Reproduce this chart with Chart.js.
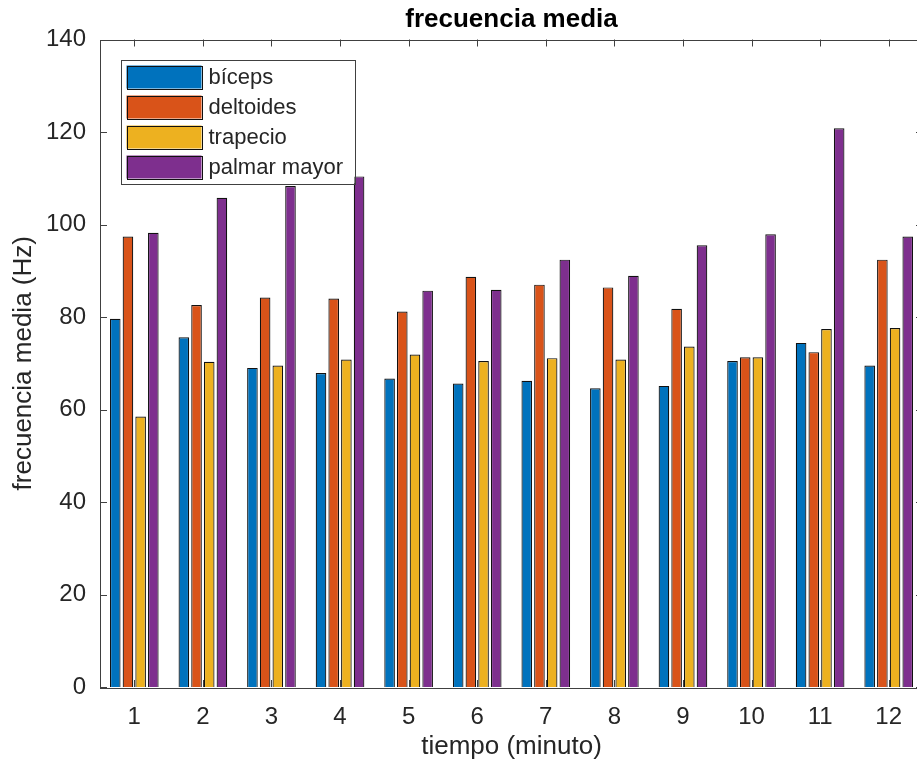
<!DOCTYPE html>
<html>
<head>
<meta charset="utf-8">
<script src="https://cdn.jsdelivr.net/npm/chart.js@4/dist/chart.umd.min.js"></script>
<style>
  html, body { margin: 0; padding: 0; background: #fff; overflow: hidden; }
  #wrap { width: 940px; height: 774px; }
</style>
</head>
<body>
<div id="wrap"><canvas id="c" width="940" height="774"></canvas></div>
<script>
// Minutes of recording
const minutes = ['1', '2', '3', '4', '5', '6', '7', '8', '9', '10', '11', '12'];

// Mean frequency (Hz) per muscle and minute
const biceps    = [79.6, 75.6, 69.0, 67.9, 66.7, 65.6, 66.2, 64.6, 65.1, 70.5, 74.4, 69.5];
const deltoides = [97.4, 82.6, 84.2, 84.0, 81.2, 88.7, 87.0, 86.4, 81.8, 71.3, 72.4, 92.4];
const trapecio  = [58.5, 70.3, 69.5, 70.8, 71.9, 70.5, 71.1, 70.8, 73.6, 71.3, 77.4, 77.6];
const palmar    = [98.2, 105.8, 108.3, 110.4, 85.7, 85.9, 92.4, 88.9, 95.5, 97.9, 120.8, 97.4];

const seriesNames = ['bíceps', 'deltoides', 'trapecio', 'palmar mayor'];
const seriesColors = ['#0072BD', '#D95319', '#EDB120', '#7E2F8E'];

const yMin = 0, yMax = 140, yStep = 20;

const FONT = "'Liberation Sans', Arial, Helvetica, sans-serif";
const TEXT = '#262626';
const AXIS = '#404040';

const seriesValues = [biceps, deltoides, trapecio, palmar];

// Box around the axes plus inward tick marks on all four sides
const axesBox = {
  id: 'axesBox',
  afterDatasetsDraw(chart) {
    const { ctx, chartArea: a, scales } = chart;
    const len = 7;
    ctx.save();
    ctx.strokeStyle = AXIS;
    ctx.lineWidth = 1;
    ctx.beginPath();
    scales.x.ticks.forEach((t, i) => {
      const x = Math.round(scales.x.getPixelForTick(i)) + 0.5;
      ctx.moveTo(x, a.bottom); ctx.lineTo(x, a.bottom - len);
      ctx.moveTo(x, a.top); ctx.lineTo(x, a.top + len);
    });
    scales.y.ticks.forEach((t, i) => {
      const y = Math.round(scales.y.getPixelForTick(i)) + 0.5;
      ctx.moveTo(a.left, y); ctx.lineTo(a.left + len, y);
      ctx.moveTo(a.right, y); ctx.lineTo(a.right - len, y);
    });
    ctx.stroke();
    ctx.strokeRect(Math.round(a.left) + 0.5, Math.round(a.top) + 0.5,
                   Math.round(a.right - a.left), Math.round(a.bottom - a.top));
    ctx.restore();
  }
};

// Legend box in the upper-left corner of the axes
const innerLegend = {
  id: 'innerLegend',
  afterDatasetsDraw(chart) {
    const { ctx, chartArea: a } = chart;
    const x0 = a.left + 20.5, y0 = a.top + 20;
    const w = 234, rowH = 30, h = 124;
    ctx.save();
    ctx.fillStyle = '#fff';
    ctx.fillRect(x0, y0, w, h);
    ctx.strokeStyle = AXIS;
    ctx.lineWidth = 1;
    ctx.strokeRect(Math.round(x0) + 0.5, Math.round(y0) + 0.5, w, h);
    ctx.font = '22px ' + FONT;
    ctx.textBaseline = 'middle';
    chart.data.datasets.forEach((ds, i) => {
      const sy = y0 + 6 + i * rowH;
      ctx.fillStyle = ds.backgroundColor;
      ctx.fillRect(x0 + 6, sy, 75, 23);
      ctx.strokeStyle = '#111';
      ctx.strokeRect(Math.round(x0 + 6) + 0.5, Math.round(sy) + 0.5, 75, 23);
      ctx.fillStyle = TEXT;
      ctx.fillText(ds.label, x0 + 88, sy + 12);
    });
    ctx.restore();
  }
};

new Chart(document.getElementById('c'), {
  type: 'bar',
  data: {
    labels: minutes,
    datasets: seriesValues.map((vals, i) => ({
      label: seriesNames[i],
      data: vals,
      backgroundColor: seriesColors[i],
      borderColor: '#111',
      borderWidth: 1.2,
      categoryPercentage: 0.74,
      barPercentage: 0.835
    }))
  },
  options: {
    responsive: false,
    animation: false,
    layout: { padding: { top: 0, right: 17, left: 0, bottom: 0 } },
    plugins: {
      legend: { display: false },
      tooltip: { enabled: false },
      title: {
        display: true,
        text: 'frecuencia media',
        fullSize: false,
        color: '#000',
        font: { family: FONT, size: 26, weight: 'bold', lineHeight: 1 },
        padding: { top: 7, bottom: 6.5 }
      }
    },
    scales: {
      x: {
        grid: { display: false, drawTicks: false },
        border: { display: false },
        ticks: {
          color: TEXT,
          font: { family: FONT, size: 24, lineHeight: 1 },
          padding: 18,
          maxRotation: 0
        },
        title: {
          display: true,
          text: 'tiempo (minuto)',
          color: TEXT,
          font: { family: FONT, size: 26, lineHeight: 1 },
          padding: { top: 0, bottom: 14 }
        },
        afterFit(scale) { scale.height = 87; }
      },
      y: {
        min: yMin,
        max: yMax,
        grid: { display: false, drawTicks: false },
        border: { display: false },
        ticks: {
          stepSize: yStep,
          color: TEXT,
          font: { family: FONT, size: 24, lineHeight: 1 },
          padding: 14
        },
        title: {
          display: true,
          text: 'frecuencia media (Hz)',
          color: TEXT,
          font: { family: FONT, size: 26, lineHeight: 1 },
          padding: { top: 11, bottom: 0 }
        },
        afterFit(scale) { scale.width = 100; }
      }
    }
  },
  plugins: [axesBox, innerLegend]
});
</script>
</body>
</html>
